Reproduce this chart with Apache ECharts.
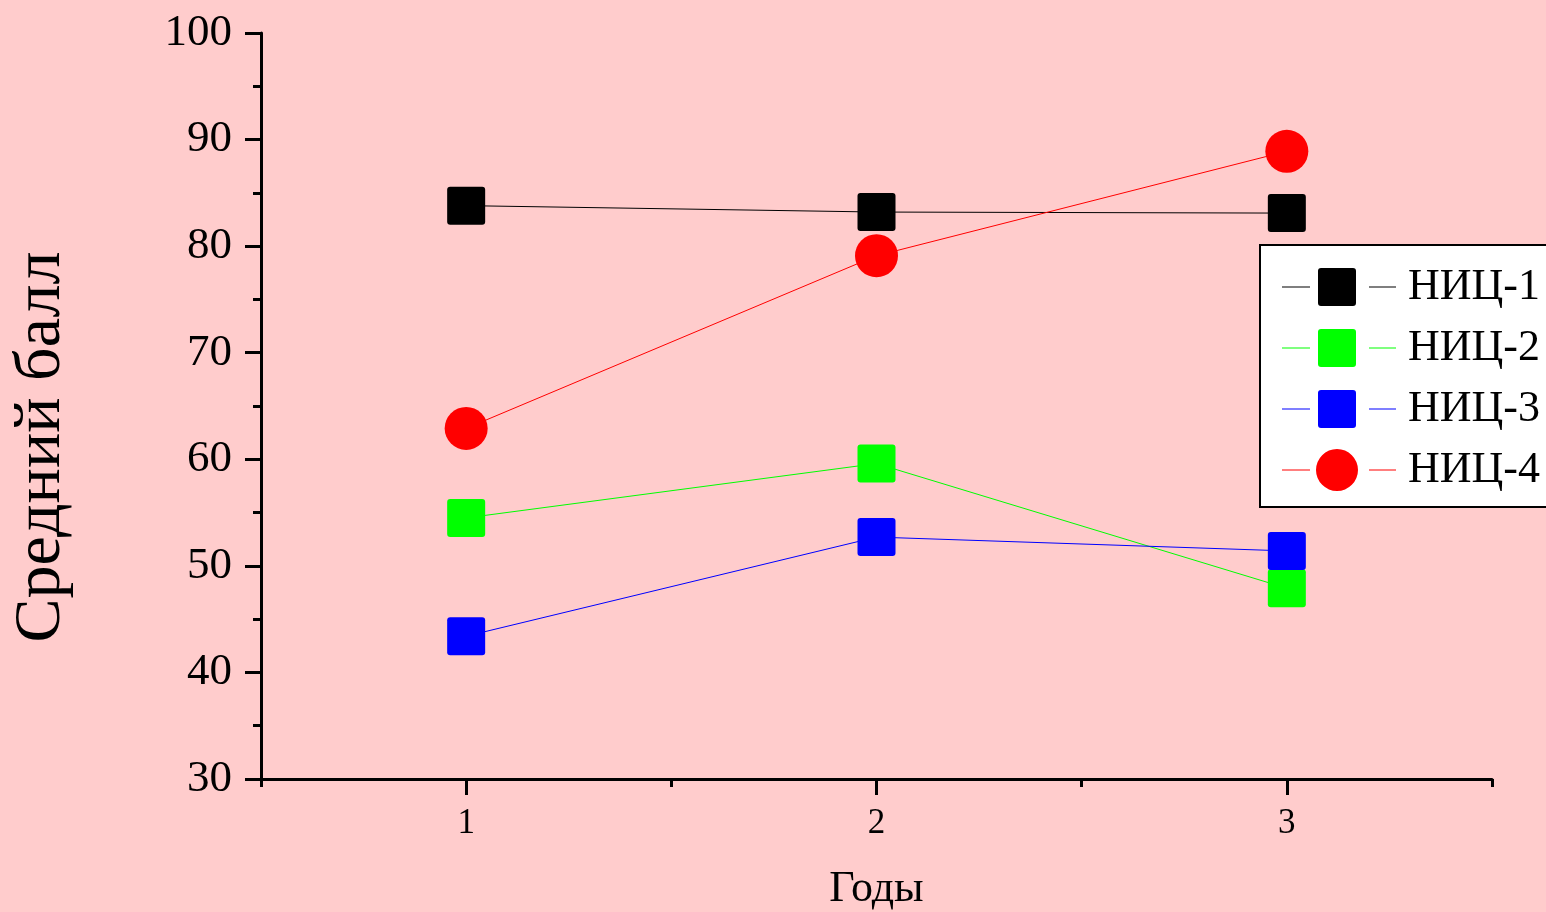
<!DOCTYPE html>
<html>
<head>
<meta charset="utf-8">
<script src="https://cdn.jsdelivr.net/npm/echarts@6/dist/echarts.min.js"></script>
<style>
html,body{margin:0;padding:0;background:#FFCCCC;}
#chart{width:1546px;height:912px;}
</style>
</head>
<body>
<div id="chart"></div>
<script>
const years = [1, 2, 3];
const seriesNames = ['НИЦ-1', 'НИЦ-2', 'НИЦ-3', 'НИЦ-4'];
const nic1 = [83.8, 83.2, 83.1];
const nic2 = [54.5, 59.6, 47.9];
const nic3 = [43.4, 52.7, 51.4];
const nic4 = [62.9, 79.1, 88.9];
const yTicks = [30, 40, 50, 60, 70, 80, 90, 100];
const xMajorTicks = [1, 2, 3];
const xMinorTicks = [0.5, 1.5, 2.5, 3.5];
const xAxisTitle = 'Годы';
const yAxisTitle = 'Средний балл';

const seriesValues = [nic1, nic2, nic3, nic4];
const colors = ['#000000', '#00FF00', '#0000FF', '#FF0000'];
const squareMarker = 'path://M3,0h32a3,3 0 0 1 3,3v32a3,3 0 0 1 -3,3h-32a3,3 0 0 1 -3,-3v-32a3,3 0 0 1 3,-3z';
const symbols = [squareMarker, squareMarker, squareMarker, 'circle'];
const sizes = [38, 38, 38, 43];
const FONT = '"Liberation Serif", "Times New Roman", serif';

// legend icons: short line, gap, marker, gap, short line
const squareIcon = 'path://M0,18.5h28v1h-28zM39,0h32a3,3 0 0 1 3,3v32a3,3 0 0 1 -3,3h-32a3,3 0 0 1 -3,-3v-32a3,3 0 0 1 3,-3zM87,18.5h27v1h-27z';
const circleIcon = 'path://M0,20.5h28v1h-28zM34,21A21,21 0 1 1 76,21A21,21 0 1 1 34,21zM87,20.5h27v1h-27z';
const legendIcons = [squareIcon, squareIcon, squareIcon, circleIcon];

const chart = echarts.init(document.getElementById('chart'), null, {renderer: 'canvas'});

const series = seriesNames.map((name, i) => ({
  name: name,
  type: 'line',
  xAxisIndex: 0,
  yAxisIndex: 0,
  data: years.map((x, j) => [x, seriesValues[i][j]]),
  symbol: symbols[i],
  symbolSize: sizes[i],
  symbolKeepAspect: true,
  showAllSymbol: true,
  color: colors[i],
  lineStyle: {color: colors[i], width: 1},
  itemStyle: {color: colors[i], opacity: 1},
  emphasis: {disabled: true},
  z: 2 + i
}));

const option = {
  backgroundColor: '#FFCCCC',
  animation: false,
  textStyle: {fontFamily: FONT, color: '#000'},
  grid: {left: 261, right: 54, top: 33, bottom: 133, containLabel: false, outerBoundsMode: 'none'},
  legend: {
    data: seriesNames.map((n, i) => ({name: n, icon: legendIcons[i]})),
    orient: 'vertical',
    left: 1260,
    top: 245,
    backgroundColor: '#FFFFFF',
    borderColor: '#000000',
    borderWidth: 2,
    borderRadius: 0,
    padding: [20, 20, 15, 22],
    itemGap: 17,
    itemWidth: 114,
    itemHeight: 42,
    symbolKeepAspect: true,
    textStyle: {fontFamily: FONT, fontSize: 44, color: '#000', padding: [0, 0, 0, 7]},
    selectedMode: false
  },
  xAxis: [{
    type: 'value',
    min: 0.5,
    max: 3.5,
    position: 'bottom',
    name: xAxisTitle,
    nameLocation: 'middle',
    nameGap: 88,
    nameTextStyle: {fontFamily: FONT, fontSize: 44, color: '#000'},
    axisLine: {show: true, onZero: false, lineStyle: {color: '#000', width: 3}},
    axisTick: {show: true, inside: false, length: 16, customValues: xMajorTicks, lineStyle: {color: '#000', width: 3}},
    axisLabel: {show: true, customValues: xMajorTicks, margin: 27, fontFamily: FONT, fontSize: 35, color: '#000'},
    splitLine: {show: false}
  }, {
    type: 'value',
    min: 0.5,
    max: 3.5,
    position: 'bottom',
    offset: 0,
    axisLine: {show: false},
    axisTick: {show: true, inside: false, length: 8, customValues: xMinorTicks, lineStyle: {color: '#000', width: 3}},
    axisLabel: {show: false},
    splitLine: {show: false}
  }],
  yAxis: {
    type: 'value',
    min: 30,
    max: 100,
    interval: 10,
    name: yAxisTitle,
    nameLocation: 'middle',
    nameGap: 186,
    nameTextStyle: {fontFamily: FONT, fontSize: 66, color: '#000', padding: [0, 82, 0, 0]},
    axisLine: {show: true, onZero: false, lineStyle: {color: '#000', width: 3}},
    axisTick: {show: true, inside: false, length: 16, lineStyle: {color: '#000', width: 3}},
    minorTick: {show: true, splitNumber: 2, length: 8, lineStyle: {color: '#000', width: 3}},
    axisLabel: {margin: 29, fontFamily: FONT, fontSize: 45, color: '#000',
      customValues: yTicks},
    splitLine: {show: false},
    minorSplitLine: {show: false}
  },
  series: series
};
chart.setOption(option);
</script>
</body>
</html>
